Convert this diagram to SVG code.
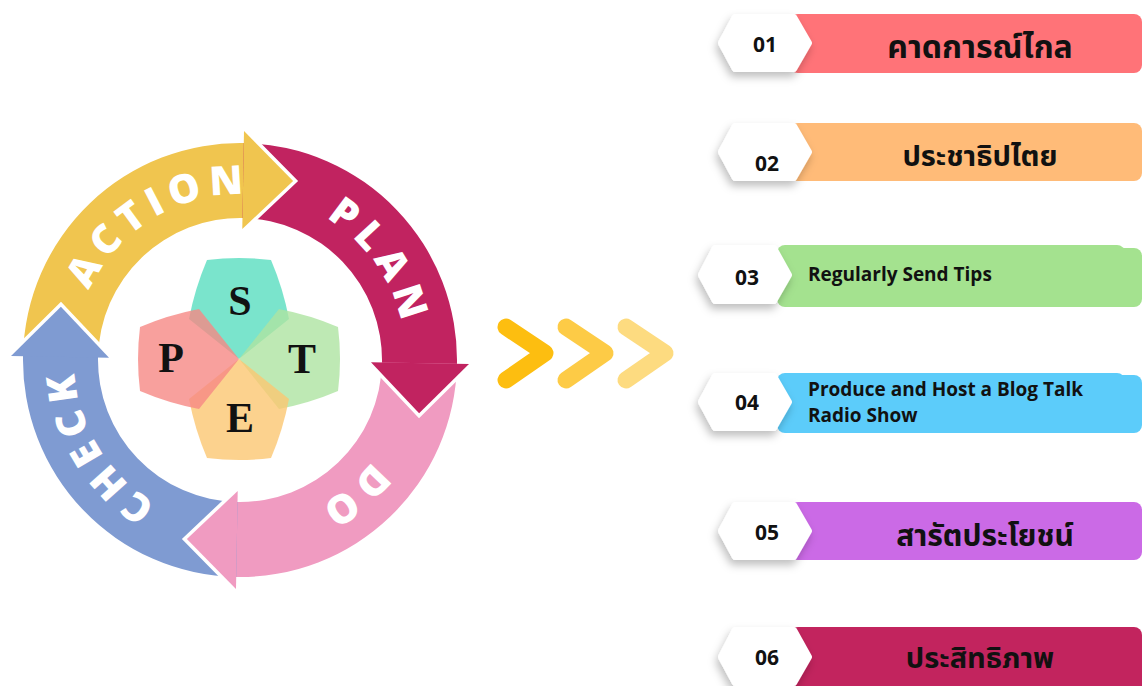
<svg xmlns="http://www.w3.org/2000/svg" width="1143" height="686" viewBox="0 0 1143 686">
<defs>
<style>
.ring{font-family:"Open Sans","DejaVu Sans",sans-serif;font-weight:800;font-size:40px;fill:#fff;letter-spacing:7px}
.gap{stroke:#fff;stroke-width:7;stroke-linejoin:miter;paint-order:stroke}
.petal{opacity:0.8}
.pl{font-family:"Liberation Serif","Times New Roman",serif;font-weight:700;font-size:42px;fill:#111;text-anchor:middle}
.chev{fill:none;stroke-width:17;stroke-linecap:round;stroke-linejoin:round}
.badge{fill:#fff;stroke:#fff;stroke-width:6;stroke-linejoin:round;filter:url(#sh)}
.num{font-family:"Open Sans","DejaVu Sans",sans-serif;font-weight:700;font-size:21px;fill:#111;text-anchor:middle}
.th{font-family:"Noto Sans Thai","Noto Sans","DejaVu Sans",sans-serif;font-weight:700;font-size:32px;fill:#111;text-anchor:middle}
.en{font-family:"Open Sans","DejaVu Sans",sans-serif;font-weight:700;font-size:19px;fill:#111}
</style>
<filter id="sh" x="-30%" y="-30%" width="160%" height="180%">
<feDropShadow dx="-2" dy="5" stdDeviation="4" flood-color="#000" flood-opacity="0.25"/>
</filter>
<path id="lp" d="M 240 526 A 166 166 0 1 1 240 194 A 166 166 0 1 1 240 526"/>
<path id="pt" d="M 0 0 L -50 -40 Q -44 -71 -32 -99 Q 0 -103 32 -99 Q 44 -71 50 -40 Z"/>
</defs>
<rect width="1143" height="686" fill="#fff"/>

<g id="cycle">
<g id="bodies">
<path id="action-body" fill="#F0C54F" d="M 23.03 356.21 A 217 217 0 0 1 245.68 143.07 L 243.72 218.05 A 142 142 0 0 0 98.02 357.52 Z"/>
<path id="plan-body" fill="#C12360" d="M 243.79 143.03 A 217 217 0 0 1 456.93 365.68 L 381.95 363.72 A 142 142 0 0 0 242.48 218.02 Z"/>
<path id="do-body" fill="#F09BC1" d="M 456.97 363.79 A 217 217 0 0 1 234.32 576.93 L 236.28 501.95 A 142 142 0 0 0 381.98 362.48 Z"/>
<path id="check-body" fill="#7F9BD2" d="M 236.21 576.97 A 217 217 0 0 1 23.07 354.32 L 98.05 356.28 A 142 142 0 0 0 237.52 501.98 Z"/>
</g>
<g id="heads">
<path class="gap" fill="#F0C54F" d="M 244.00 131.03 L 293.13 180.90 L 242.29 229.02"/>
<path class="gap" fill="#C12360" d="M 468.97 364.00 L 419.10 413.13 L 370.98 362.29"/>
<path class="gap" fill="#F09BC1" d="M 236.00 588.97 L 186.87 539.10 L 237.71 490.98"/>
<path class="gap" fill="#7F9BD2" d="M 11.03 356.00 L 60.90 306.87 L 109.02 357.71"/>
</g>
<g id="labels">
<text class="ring" text-anchor="middle"><textPath href="#lp" startOffset="432">ACTION</textPath></text>
<text class="ring" text-anchor="middle"><textPath href="#lp" startOffset="681">PLAN</textPath></text>
<text class="ring" text-anchor="middle"><textPath href="#lp" startOffset="928">DO</textPath></text>
<text class="ring" text-anchor="middle"><textPath href="#lp" startOffset="171">CHECK</textPath></text>
</g>
</g>

<g id="pest">
<use href="#pt" class="petal" fill="#59DDBF" transform="translate(239 359)"/>
<use href="#pt" class="petal" fill="#AEE4A1" transform="translate(239 359) rotate(90)"/>
<use href="#pt" class="petal" fill="#FBC772" transform="translate(239 359) rotate(180)"/>
<use href="#pt" class="petal" fill="#F68885" transform="translate(239 359) rotate(270)"/>
<text class="pl" x="240" y="315">S</text>
<text class="pl" x="171" y="372">P</text>
<text class="pl" x="302" y="373">T</text>
<text class="pl" x="240" y="432">E</text>
</g>

<g id="chevrons">
<polyline class="chev" stroke="#FDBE10" points="506,327 545,353 506,380"/>
<polyline class="chev" stroke="#FDCB46" points="566,327 605,353 566,380"/>
<polyline class="chev" stroke="#FDDB80" points="626,327 665,353 626,380"/>
</g>

<g id="item1">
<rect x="790" y="14" width="352" height="59" rx="8" fill="#FF7378"/>
<path class="badge" d="M 721 43 L 735 17 L 794 17 L 809 43 L 794 69 L 735 69 Z"/>
<text class="num" x="765" y="52">01</text>
<text class="th" x="980" y="58">คาดการณ์ไกล</text>
</g>
<g id="item2">
<rect x="790" y="123" width="352" height="58" rx="8" fill="#FFBB78"/>
<path class="badge" d="M 721 152 L 735 126 L 794 126 L 809 152 L 794 178 L 735 178 Z"/>
<text class="num" x="767" y="171">02</text>
<text class="th" x="980" y="166" style="font-size:29px">ประชาธิปไตย</text>
</g>
<g id="item3">
<rect x="777" y="245" width="348" height="59" rx="8" fill="#A4E28F"/>
<rect x="777" y="248" width="365" height="59" rx="8" fill="#A4E28F"/>
<path class="badge" d="M 701 275 L 715 248 L 774 248 L 789 275 L 774 301 L 715 301 Z"/>
<text class="num" x="747" y="285">03</text>
<text class="en" x="808" y="281">Regularly Send Tips</text>
</g>
<g id="item4">
<rect x="777" y="373" width="348" height="58" rx="8" fill="#5CCCFA"/>
<rect x="777" y="375" width="365" height="58" rx="8" fill="#5CCCFA"/>
<path class="badge" d="M 701 402 L 715 376 L 774 376 L 789 402 L 774 428 L 715 428 Z"/>
<text class="num" x="747" y="410">04</text>
<text class="en" x="808" y="396">Produce and Host a Blog Talk</text>
<text class="en" x="808" y="422">Radio Show</text>
</g>
<g id="item5">
<rect x="790" y="502" width="352" height="58" rx="8" fill="#CB6AE6"/>
<path class="badge" d="M 721 531 L 735 505 L 794 505 L 809 531 L 794 557 L 735 557 Z"/>
<text class="num" x="767" y="540">05</text>
<text class="th" x="985" y="546" style="font-size:30px">สารัตประโยชน์</text>
</g>
<g id="item6">
<rect x="790" y="627" width="352" height="66" rx="8" fill="#C2245E"/>
<path class="badge" d="M 721 657 L 735 630 L 794 630 L 809 657 L 794 683 L 735 683 Z"/>
<text class="num" x="767" y="665">06</text>
<text class="th" x="980" y="668" style="font-size:29px">ประสิทธิภาพ</text>
</g>
</svg>
